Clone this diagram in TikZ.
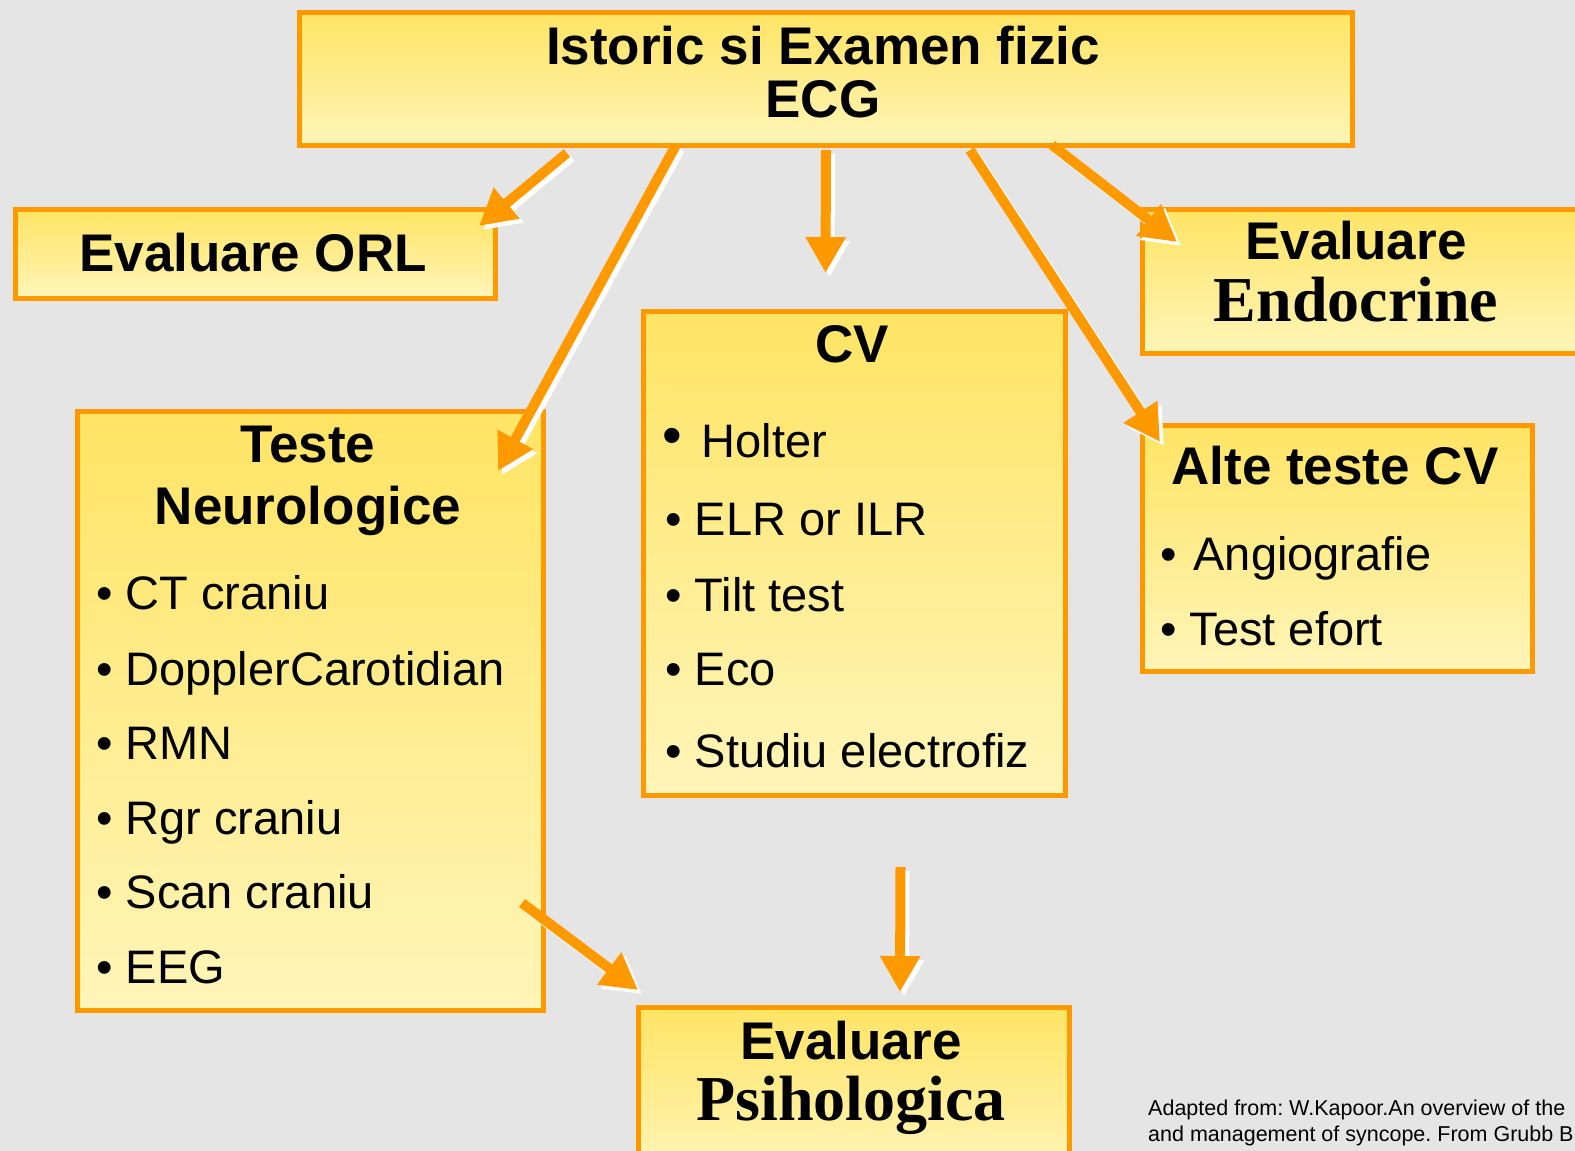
\documentclass[tikz,border=0pt]{standalone}
\usepackage{fontspec}
\setmainfont{Liberation Sans}
\newfontfamily\timesbold{Liberation Serif}
\usetikzlibrary{positioning,calc,arrows.meta}
\frenchspacing

\definecolor{boxline}{RGB}{255,153,0}
\definecolor{boxtop}{RGB}{255,228,100}
\definecolor{boxbot}{RGB}{255,245,185}
\definecolor{granite}{RGB}{229,229,229}

\tikzset{
  box/.style={draw=boxline, line width=5pt, top color=boxtop, bottom color=boxbot,
              anchor=north west, inner sep=0pt},
  head/.style={font=\fontsize{53}{53}\selectfont\bfseries, anchor=base, inner sep=0pt},
  headtimes/.style={font=\fontsize{64}{64}\selectfont\timesbold\bfseries, anchor=base, inner sep=0pt},
  item/.style={font=\fontsize{47}{47}\selectfont, anchor=base west, inner sep=0pt},
  arr/.style={draw=boxline, line width=10pt, -{Triangle[length=36pt,width=38pt]}},
  arrshade/.style={arr, draw=white, transform canvas={shift={(4pt,-4pt)}}},
}
\newcommand\fatarrow[2]{\draw[arrshade] (#1) -- (#2); \draw[arr] (#1) -- (#2);}

\begin{document}
\begin{tikzpicture}[x=1pt, y=-1pt]
\useasboundingbox (0,0) rectangle (1575,1151);
\fill[granite] (0,0) rectangle (1575,1151);

% boxes
\node[box, minimum width=1053pt, minimum height=133pt] (top) at (297,10) {};
\node[box, minimum width=480pt, minimum height=89pt] (orl) at (13,207) {};
\node[box, minimum width=445pt, minimum height=144pt] (endo) at (1140,207) {};
\node[box, minimum width=422pt, minimum height=484pt] (cv) at (641,309) {};
\node[box, minimum width=466pt, minimum height=599pt] (neuro) at (75,409) {};
\node[box, minimum width=390pt, minimum height=246pt] (alte) at (1140,423) {};
\node[box, minimum width=431pt, minimum height=165pt] (psih) at (636,1005) {};

% titles
\node[head] (topa) at (823,64) {Istoric si Examen fizic};
\node[head] (topb) at (823,117) {ECG};
\node[head] (orlt) at (253,271) {Evaluare ORL};
\node[head] (endoa) at (1356,259) {Evaluare};
\node[headtimes] (endob) at (1356,321) {Endocrine};
\node[head] (cvt) at (852,362) {CV};
\node[head] (neuroa) at (308,462) {Teste};
\node[head] (neurob) at (308,524) {Neurologice};
\node[head] (altet) at (1335,484) {Alte teste CV};
\node[head] (psiha) at (851,1059) {Evaluare};
\node[headtimes] (psihb) at (851,1120) {Psihologica};

% CV list
\node[item] (cv1) at (662,457) {\raisebox{3pt}{\fontsize{56}{56}\selectfont •}\hspace{20pt}Holter};
\node[item] (cv2) at (665,535) {• ELR or ILR};
\node[item] (cv3) at (665,611) {• Tilt test};
\node[item] (cv4) at (665,685) {• Eco};
\node[item] (cv5) at (665,767) {• Studiu electrofiz};

% neuro list
\node[item] (ne1) at (96,609) {• CT craniu};
\node[item] (ne2) at (96,685) {• DopplerCarotidian};
\node[item] (ne3) at (96,759) {• RMN};
\node[item] (ne4) at (96,834) {• Rgr craniu};
\node[item] (ne5) at (96,908) {• Scan craniu};
\node[item] (ne6) at (96,983) {• EEG};

% alte list
\node[item] (al1) at (1160,570) {•\hspace{17pt}Angiografie};
\node[item] (al2) at (1160,645) {• Test efort};

% arrows
\coordinate (s1) at ($(top.south west)+(270,5)$);
\coordinate (t1) at ($(orl.north east)+(-19,19)$);
\coordinate (s2) at ($(top.south west)+(379,-3)$);
\coordinate (t2) at ($(neuro.north east)+(-48,62)$);
\coordinate (s3) at ($(top.south)+(0,2)$);
\coordinate (t3) at ($(cv.north)+(-29,-36)$);
\coordinate (s4) at ($(top.south west)+(673,2)$);
\coordinate (t4) at ($(alte.north west)+(20,19)$);
\coordinate (s5) at ($(top.south west)+(755,-3)$);
\coordinate (t5) at ($(endo.north west)+(37,35)$);
\coordinate (s6) at ($(neuro.south east)+(-24,-110)$);
\coordinate (t6) at ($(psih.north west)+(2,-15)$);
\coordinate (s7) at ($(cv.south)+(46,69)$);
\coordinate (t7) at ($(psih.north)+(46,-13)$);
\fatarrow{s1}{t1}
\fatarrow{s2}{t2}
\fatarrow{s3}{t3}
\fatarrow{s4}{t4}
\fatarrow{s5}{t5}
\fatarrow{s6}{t6}
\fatarrow{s7}{t7}

% source
\node[font=\fontsize{21.5}{26}\selectfont, anchor=base west, align=left, inner sep=0pt] (cite)
  at (1148,1141) {Adapted from: W.Kapoor.An overview of the\\and management of syncope. From Grubb B};
\end{tikzpicture}
\end{document}
